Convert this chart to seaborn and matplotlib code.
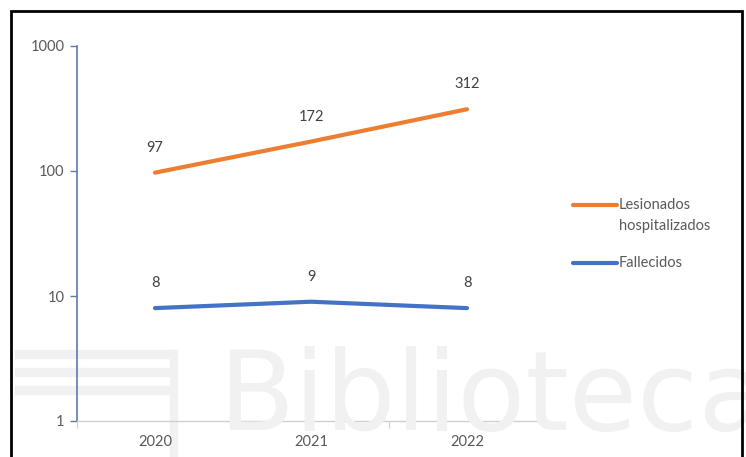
import matplotlib
matplotlib.use("Agg")
import matplotlib.pyplot as plt
import seaborn as sns
import pandas as pd
from matplotlib.lines import Line2D
from matplotlib.patches import Rectangle

years = ["2020", "2021", "2022"]
lesionados = [97, 172, 312]
fallecidos = [8, 9, 8]
series_names = ["Lesionados\nhospitalizados", "Fallecidos"]
y_ticks = [1, 10, 100, 1000]

sns.set_theme(style="white")
plt.rcParams["font.family"] = ["Lato", "DejaVu Sans"]

df = pd.DataFrame({
    "year": years * 2,
    "value": lesionados + fallecidos,
    "serie": [series_names[0]] * 3 + [series_names[1]] * 3,
})
df["x"] = list(range(3)) * 2

colors = {series_names[0]: "#ED7D31", series_names[1]: "#4472C4"}

W, H = 746, 457
fig = plt.figure(figsize=(W / 100, H / 100), dpi=100)
fig.patch.set_facecolor("white")

# faint watermark in the background
wm_color = "#f1f1f1"
fig.text(218 / W, 1 - 430 / H, "Biblioteca", fontsize=80, color=wm_color,
         family="DejaVu Sans", ha="left", va="baseline", zorder=0)
for y0 in (350, 368, 386):
    fig.add_artist(Rectangle((15 / W, 1 - (y0 + 8) / H), (175 - 15) / W, 8 / H,
                             transform=fig.transFigure, color=wm_color, zorder=0))
fig.add_artist(Rectangle((170 / W, 0), 7 / W, 1 - 350 / H,
                         transform=fig.transFigure, color=wm_color, zorder=0))

ax = fig.add_axes([77 / W, 1 - 421 / H, (545 - 77) / W, (421 - 46) / H])
ax.set_facecolor("none")

sns.lineplot(data=df, x="x", y="value", hue="serie", palette=colors,
             linewidth=3, legend=False, ax=ax, sort=False)

ax.set_yscale("log")
ax.set_ylim(1, 1000)
ax.set_xlim(-0.5, 2.5)
ax.set_yticks(y_ticks)
ax.set_yticklabels([str(t) for t in y_ticks])
ax.yaxis.set_minor_locator(matplotlib.ticker.NullLocator())
ax.set_xticks([0, 1, 2])
ax.set_xticklabels(years)
ax.set_xticks([-0.5, 0.5, 1.5, 2.5], minor=True)
ax.set_xlabel("")
ax.set_ylabel("")

ax.tick_params(axis="x", which="major", length=0, pad=10, labelsize=10.5, labelcolor="#595959")
ax.tick_params(axis="x", which="minor", length=5, width=0.8, color="#d0d0d0", direction="out", bottom=True)
ax.tick_params(axis="y", which="major", length=5, width=1, color="#5B7BA8", direction="out",
               left=True, labelsize=10.5, labelcolor="#595959", pad=4)

for s in ["top", "right"]:
    ax.spines[s].set_visible(False)
ax.spines["left"].set_color("#5B7BA8")
ax.spines["left"].set_linewidth(1.2)
ax.spines["bottom"].set_color("#d0d0d0")
ax.spines["bottom"].set_linewidth(1)

for vals in [lesionados, fallecidos]:
    for i, v in enumerate(vals):
        ax.annotate(str(v), (i, v), xytext=(0, 18), textcoords="offset points",
                    ha="center", va="center", fontsize=10.5, color="#404040")

# legend (Excel style, handle aligned with first text line)
leg = [(205, "#ED7D31", ["Lesionados", "hospitalizados"]), (263, "#4472C4", ["Fallecidos"])]
for y, c, lines in leg:
    fig.add_artist(Line2D([573 / W, 617 / W], [1 - y / H, 1 - y / H], color=c,
                          linewidth=3, transform=fig.transFigure))
    for k, t in enumerate(lines):
        fig.text(619 / W, 1 - (y + 21 * k) / H, t, fontsize=10.5, color="#595959",
                 ha="left", va="center")

# outer black frame
fig.add_artist(Rectangle((11 / W, -0.05), (742 - 11) / W, 1 - 11 / H + 0.05,
                         transform=fig.transFigure, fill=False, edgecolor="black",
                         linewidth=2, zorder=10))

fig.savefig("out.png", dpi=100)
